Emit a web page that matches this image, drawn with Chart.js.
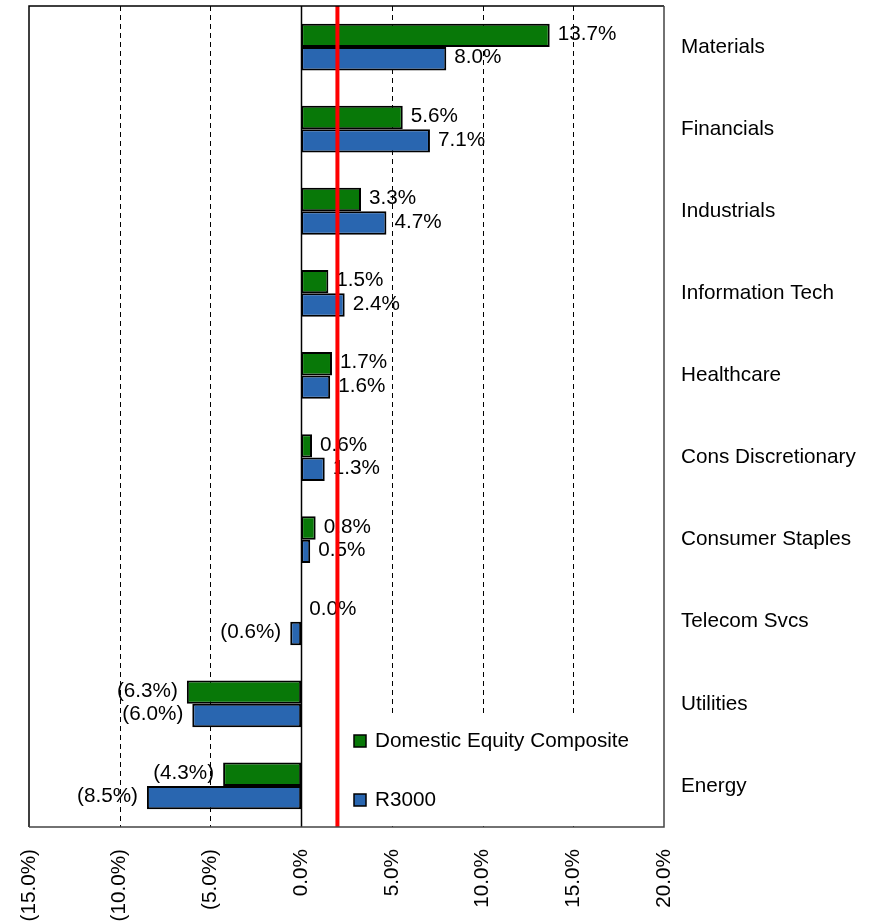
<!DOCTYPE html>
<html>
<head>
<meta charset="utf-8">
<script src="https://cdn.jsdelivr.net/npm/chart.js@4.4.1/dist/chart.umd.min.js"></script>
<style>
  html, body { margin: 0; padding: 0; background: #fff; }
  #wrap { width: 888px; height: 923px; }
</style>
</head>
<body>
<div id="wrap"><canvas id="c" width="888" height="923"></canvas></div>
<script>
const categories = ["Materials", "Financials", "Industrials", "Information Tech", "Healthcare",
  "Cons Discretionary", "Consumer Staples", "Telecom Svcs", "Utilities", "Energy"];
const compositeValues = [13.7, 5.6, 3.3, 1.5, 1.7, 0.6, 0.8, 0.0, -6.3, -4.3];
const r3000Values = [8.0, 7.1, 4.7, 2.4, 1.6, 1.3, 0.5, -0.6, -6.0, -8.5];
const seriesNames = ["Domestic Equity Composite", "R3000"];
const xTicks = [-15, -10, -5, 0, 5, 10, 15, 20];
const referenceLine = 2.0;

const FONT = "'Liberation Sans', Arial, sans-serif";
const FS = 20.7;
const GREEN = "#087808";
const BLUE = "#2966B0";

function fmt(v) {
  const s = Math.abs(v).toFixed(1) + "%";
  return v < 0 ? "(" + s + ")" : s;
}

const backgroundPlugin = {
  id: "bgGrid",
  beforeDatasetsDraw(chart) {
    const { ctx, chartArea: a, scales: { x } } = chart;
    ctx.save();
    xTicks.forEach(t => {
      if (t === xTicks[0] || t === xTicks[xTicks.length - 1]) return;
      const px = Math.round(x.getPixelForValue(t)) + 0.5;
      ctx.beginPath();
      if (t === 0) {
        ctx.setLineDash([]);
        ctx.strokeStyle = "#000";
        ctx.lineWidth = 1.5;
      } else {
        ctx.setLineDash([5, 4]);
        ctx.strokeStyle = "#000";
        ctx.lineWidth = 1;
      }
      ctx.moveTo(px, a.top);
      ctx.lineTo(px, a.bottom);
      ctx.stroke();
    });
    ctx.setLineDash([]);
    const lx = 345, ly = 716;
    ctx.fillStyle = "#fff";
    ctx.fillRect(lx, ly, a.right - lx - 1, a.bottom - ly - 1);
    ctx.restore();
  },
  afterDatasetsDraw(chart) {
    const { ctx, chartArea: a, scales: { x } } = chart;
    ctx.save();
    ctx.font = FS + "px " + FONT;
    ctx.fillStyle = "#000";
    ctx.textBaseline = "middle";
    chart.data.datasets.forEach((ds, di) => {
      const meta = chart.getDatasetMeta(di);
      meta.data.forEach((bar, i) => {
        const v = ds.data[i];
        if (v < 0) {
          ctx.textAlign = "right";
          ctx.fillText(fmt(v), bar.x - 9, bar.y - 1);
        } else {
          ctx.textAlign = "left";
          ctx.fillText(fmt(v), bar.x + 8, bar.y - 1);
        }
      });
    });
    const rx = x.getPixelForValue(referenceLine);
    ctx.strokeStyle = "#FF0000";
    ctx.lineWidth = 4;
    ctx.beginPath();
    ctx.moveTo(rx, a.top);
    ctx.lineTo(rx, a.bottom);
    ctx.stroke();
    const items = [{ y: 741, c: GREEN, t: seriesNames[0] }, { y: 800, c: BLUE, t: seriesNames[1] }];
    ctx.textAlign = "left";
    items.forEach(it => {
      ctx.fillStyle = it.c;
      ctx.fillRect(354, it.y - 6, 12, 12);
      ctx.strokeStyle = "#000";
      ctx.lineWidth = 1.5;
      ctx.strokeRect(354, it.y - 6, 12, 12);
      ctx.fillStyle = "#000";
      ctx.fillText(it.t, 375, it.y);
    });
    ctx.lineWidth = 1.5;
    ctx.strokeStyle = "#000";
    ctx.beginPath();
    ctx.moveTo(a.left, a.bottom);
    ctx.lineTo(a.left, a.top);
    ctx.lineTo(a.right, a.top);
    ctx.stroke();
    ctx.strokeStyle = "#444";
    ctx.beginPath();
    ctx.moveTo(a.right, a.top);
    ctx.lineTo(a.right, a.bottom);
    ctx.lineTo(a.left, a.bottom);
    ctx.stroke();
    ctx.restore();
  }
};

new Chart(document.getElementById("c"), {
  type: "bar",
  data: {
    labels: categories,
    datasets: [
      { label: seriesNames[0], data: compositeValues, backgroundColor: GREEN, borderColor: "#000", borderWidth: 2, borderSkipped: false },
      { label: seriesNames[1], data: r3000Values, backgroundColor: BLUE, borderColor: "#000", borderWidth: 2, borderSkipped: false }
    ]
  },
  options: {
    indexAxis: "y",
    responsive: false,
    animation: false,
    devicePixelRatio: 1,
    categoryPercentage: 0.57,
    barPercentage: 1.0,
    layout: { autoPadding: false, padding: { left: 29, top: 6, right: 0, bottom: 0 } },
    plugins: { legend: { display: false }, tooltip: { enabled: false } },
    scales: {
      x: {
        type: "linear",
        min: -15, max: 20,
        afterBuildTicks(scale) { scale.ticks = xTicks.map(v => ({ value: v })); },
        afterFit(scale) { scale.height = 96; scale.paddingLeft = 0; scale.paddingRight = 0; scale.paddingTop = 0; scale.paddingBottom = 0; },
        grid: { display: false, drawTicks: false },
        border: { display: false },
        ticks: {
          minRotation: 90, maxRotation: 90,
          padding: 22,
          color: "#000",
          font: { family: FONT, size: FS },
          callback: (v) => fmt(v)
        }
      },
      y: {
        position: "right",
        afterFit(scale) { scale.width = 224; scale.paddingTop = 0; scale.paddingBottom = 0; scale.paddingLeft = 0; scale.paddingRight = 0; },
        grid: { display: false, drawTicks: false },
        border: { display: false },
        ticks: {
          padding: 17,
          color: "#000",
          crossAlign: "near",
          font: { family: FONT, size: FS }
        }
      }
    }
  },
  plugins: [backgroundPlugin]
});
</script>
</body>
</html>
